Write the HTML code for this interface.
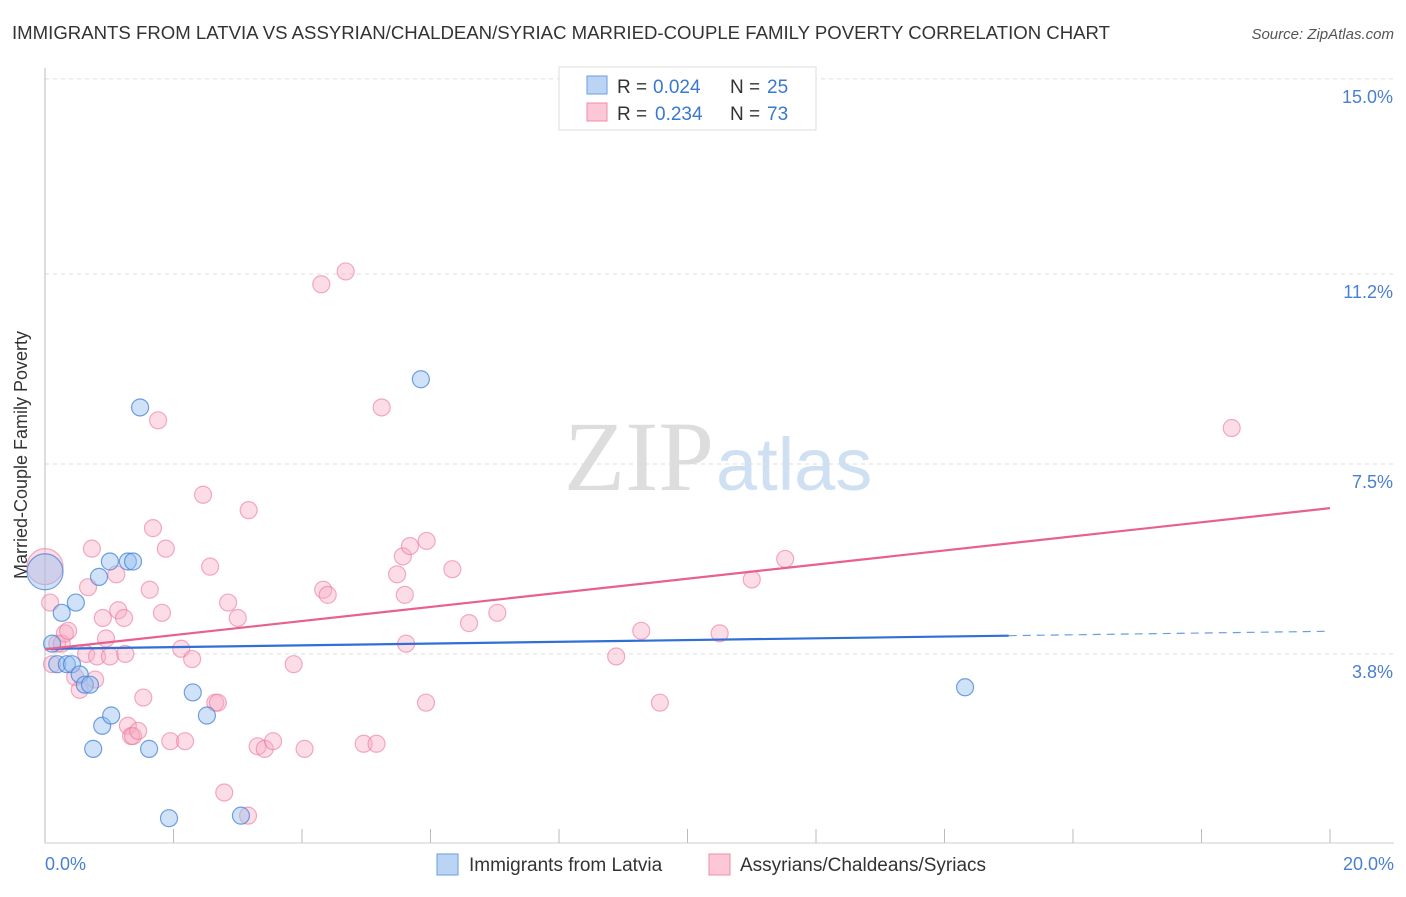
<!DOCTYPE html>
<html><head><meta charset="utf-8"><style>
body{margin:0;background:#fff;font-family:"Liberation Sans",sans-serif;}
</style></head><body>
<svg id="chart" width="1406" height="892" xmlns="http://www.w3.org/2000/svg">
<text x="12" y="39" font-size="18.6" fill="#333" textLength="1098">IMMIGRANTS FROM LATVIA VS ASSYRIAN/CHALDEAN/SYRIAC MARRIED-COUPLE FAMILY POVERTY CORRELATION CHART</text>
<text x="1394" y="39" font-size="15" fill="#555" text-anchor="end" font-style="italic">Source: ZipAtlas.com</text>
<text x="714" y="490" font-size="100" fill="#ddd" text-anchor="end" font-family="Liberation Serif">ZIP</text>
<text x="716" y="490" font-size="74" fill="#cfe0f3">atlas</text>
<g id="grid"></g>
<line x1="45" y1="68" x2="45" y2="843" stroke="#bbb"/>
<line x1="45" y1="843" x2="1394" y2="843" stroke="#ccc"/>
<text x="27" y="455" font-size="18" fill="#333" text-anchor="middle" transform="rotate(-90 27 455)">Married-Couple Family Poverty</text>
<text x="45" y="870" font-size="18" fill="#4a7fd0">0.0%</text>
<text x="1394" y="870" font-size="18" fill="#4a7fd0" text-anchor="end">20.0%</text>
<g id="pts"></g>
<g id="lines"></g>
<rect x="559" y="67" width="257" height="63" fill="#fff" stroke="#ddd"/>
<rect x="587" y="76" width="20" height="18" fill="#bcd4f4" stroke="#6a9ee0"/>
<rect x="587" y="103" width="20" height="18" fill="#fcc8d7" stroke="#f08cab"/>
<g font-size="19" fill="#333">
<text x="617" y="93">R =</text><text x="653" y="93" fill="#3a78d0">0.024</text><text x="730" y="93">N =</text><text x="767" y="93" fill="#3a78d0">25</text>
<text x="617" y="120">R =</text><text x="655" y="120" fill="#3a78d0">0.234</text><text x="730" y="120">N =</text><text x="767" y="120" fill="#3a78d0">73</text>
</g>
<rect x="437" y="854" width="21" height="21" fill="#bcd4f4" stroke="#6a9ee0"/>
<text x="469" y="871" font-size="19" fill="#333">Immigrants from Latvia</text>
<rect x="709" y="854" width="21" height="21" fill="#fcc8d7" stroke="#f08cab"/>
<text x="740" y="871" font-size="19" fill="#333">Assyrians/Chaldeans/Syriacs</text>
</svg>
<script>
const yTicks=[3.8,7.5,11.2,15.0];
const yTickLabels=["3.8%","7.5%","11.2%","15.0%"];
const blueX=[0.0,0.11,0.19,0.26,0.34,0.42,0.48,0.54,0.62,0.70,0.84,0.89,0.75,1.01,1.03,1.29,1.37,1.48,1.62,1.93,2.30,2.52,3.05,5.85,14.32];
const blueY=[5.4,4.0,3.6,4.6,3.6,3.6,4.8,3.4,3.2,3.2,5.3,2.4,1.95,5.6,2.6,5.6,5.6,8.6,1.95,0.6,3.05,2.6,0.65,9.15,3.15];
const pinkX=[0.0,0.08,0.11,0.19,0.26,0.31,0.36,0.47,0.54,0.64,0.67,0.73,0.78,0.81,0.90,0.95,1.01,1.11,1.14,1.23,1.25,1.29,1.34,1.37,1.45,1.53,1.63,1.68,1.76,1.82,1.88,1.95,2.12,2.18,2.29,2.46,2.57,2.65,2.69,2.79,2.85,3.00,3.17,3.16,3.31,3.42,3.55,3.87,4.04,4.30,4.33,4.40,4.68,4.96,5.16,5.24,5.48,5.57,5.60,5.62,5.68,5.93,5.94,6.34,6.60,7.04,8.89,9.28,9.57,10.50,11.00,11.52,18.47];
const pinkY=[5.5,4.8,3.6,4.0,4.0,4.2,4.25,3.35,3.1,3.8,5.1,5.85,3.3,3.75,4.5,4.1,3.75,5.35,4.65,4.5,3.8,2.4,2.2,2.2,2.3,2.95,5.05,6.25,8.35,4.6,5.85,2.1,3.9,2.1,3.7,6.9,5.5,2.85,2.85,1.1,4.8,4.5,6.6,0.65,2.0,1.95,2.1,3.6,1.95,11.0,5.05,4.95,11.25,2.05,2.05,8.6,5.35,5.7,4.95,4.0,5.9,2.85,6.0,5.45,4.4,4.6,3.75,4.25,2.85,4.2,5.25,5.65,8.2];
const bigBlue=[0], bigPink=[0];
const X0=45,X1=1330,Y0=849,PY=51.34;
const xs=v=>X0+(v/20)*(X1-X0);
const ys=v=>Y0-v*PY;
const NS="http://www.w3.org/2000/svg";
const g=document.getElementById('grid');
yTicks.forEach((t,i)=>{
  const l=document.createElementNS(NS,'line');
  l.setAttribute('x1',45);l.setAttribute('x2',1394);l.setAttribute('y1',ys(t));l.setAttribute('y2',ys(t));
  l.setAttribute('stroke','#ddd');l.setAttribute('stroke-dasharray','4,4');
  
  
  g.appendChild(l);
  const tx=document.createElementNS(NS,'text');
  tx.setAttribute('x',1393);tx.setAttribute('y',ys(t)+24);tx.setAttribute('text-anchor','end');
  tx.setAttribute('font-size','18');tx.setAttribute('fill','#4a7fd0');tx.textContent=yTickLabels[i];
  
  
  g.appendChild(tx);
});
for(let i=0;i<=10;i++){
  const x=X0+i*(X1-X0)/10;
  const l=document.createElementNS(NS,'line');
  l.setAttribute('x1',x);l.setAttribute('x2',x);l.setAttribute('y1',829);l.setAttribute('y2',843);l.setAttribute('stroke','#bbb');
  
  
  g.appendChild(l);
}
const P=document.getElementById('pts');
function dots(X,Y,fill,stroke,big,name){
  X.forEach((v,i)=>{
    const c=document.createElementNS(NS,'circle');
    c.setAttribute('cx',xs(v));c.setAttribute('cy',ys(Y[i]));
    c.setAttribute('r',big.includes(i)?18:8.5);
    c.setAttribute('fill',fill);c.setAttribute('stroke',stroke);c.setAttribute('stroke-width','1.2');
    
    
    P.appendChild(c);
  });
}
dots(pinkX,pinkY,'rgba(248,170,195,0.4)','rgba(235,120,155,0.6)',bigPink,'point-assyrian');
dots(blueX,blueY,'rgba(150,190,240,0.45)','rgba(70,130,215,0.75)',bigBlue,'point-latvia');
function fit(X,Y){const n=X.length;let mx=0,my=0;X.forEach((v,i)=>{mx+=v;my+=Y[i];});mx/=n;my/=n;let a=0,b=0;X.forEach((v,i)=>{a+=(v-mx)*(Y[i]-my);b+=(v-mx)**2;});const s=a/b;return x=>my+s*(x-mx);}
const L=document.getElementById('lines');
function line(x1,x2,f,stroke,w,dash,name){
  const l=document.createElementNS(NS,'line');
  l.setAttribute('x1',xs(x1));l.setAttribute('x2',xs(x2));l.setAttribute('y1',ys(f(x1)));l.setAttribute('y2',ys(f(x2)));
  l.setAttribute('stroke',stroke);l.setAttribute('stroke-width',w);if(dash)l.setAttribute('stroke-dasharray',dash);
  
  
  L.appendChild(l);
}
const fb=fit(blueX,blueY), fp=fit(pinkX,pinkY);
line(0,15,fb,'#2f6fd6',2.2,null,'trendline-latvia');
line(15,20,fb,'#6a9ee0',1.2,'8,6','trendline-latvia-extrapolated');
line(0,20,fp,'#e8608e',2.2,null,'trendline-assyrian');
</script>
</body></html>
